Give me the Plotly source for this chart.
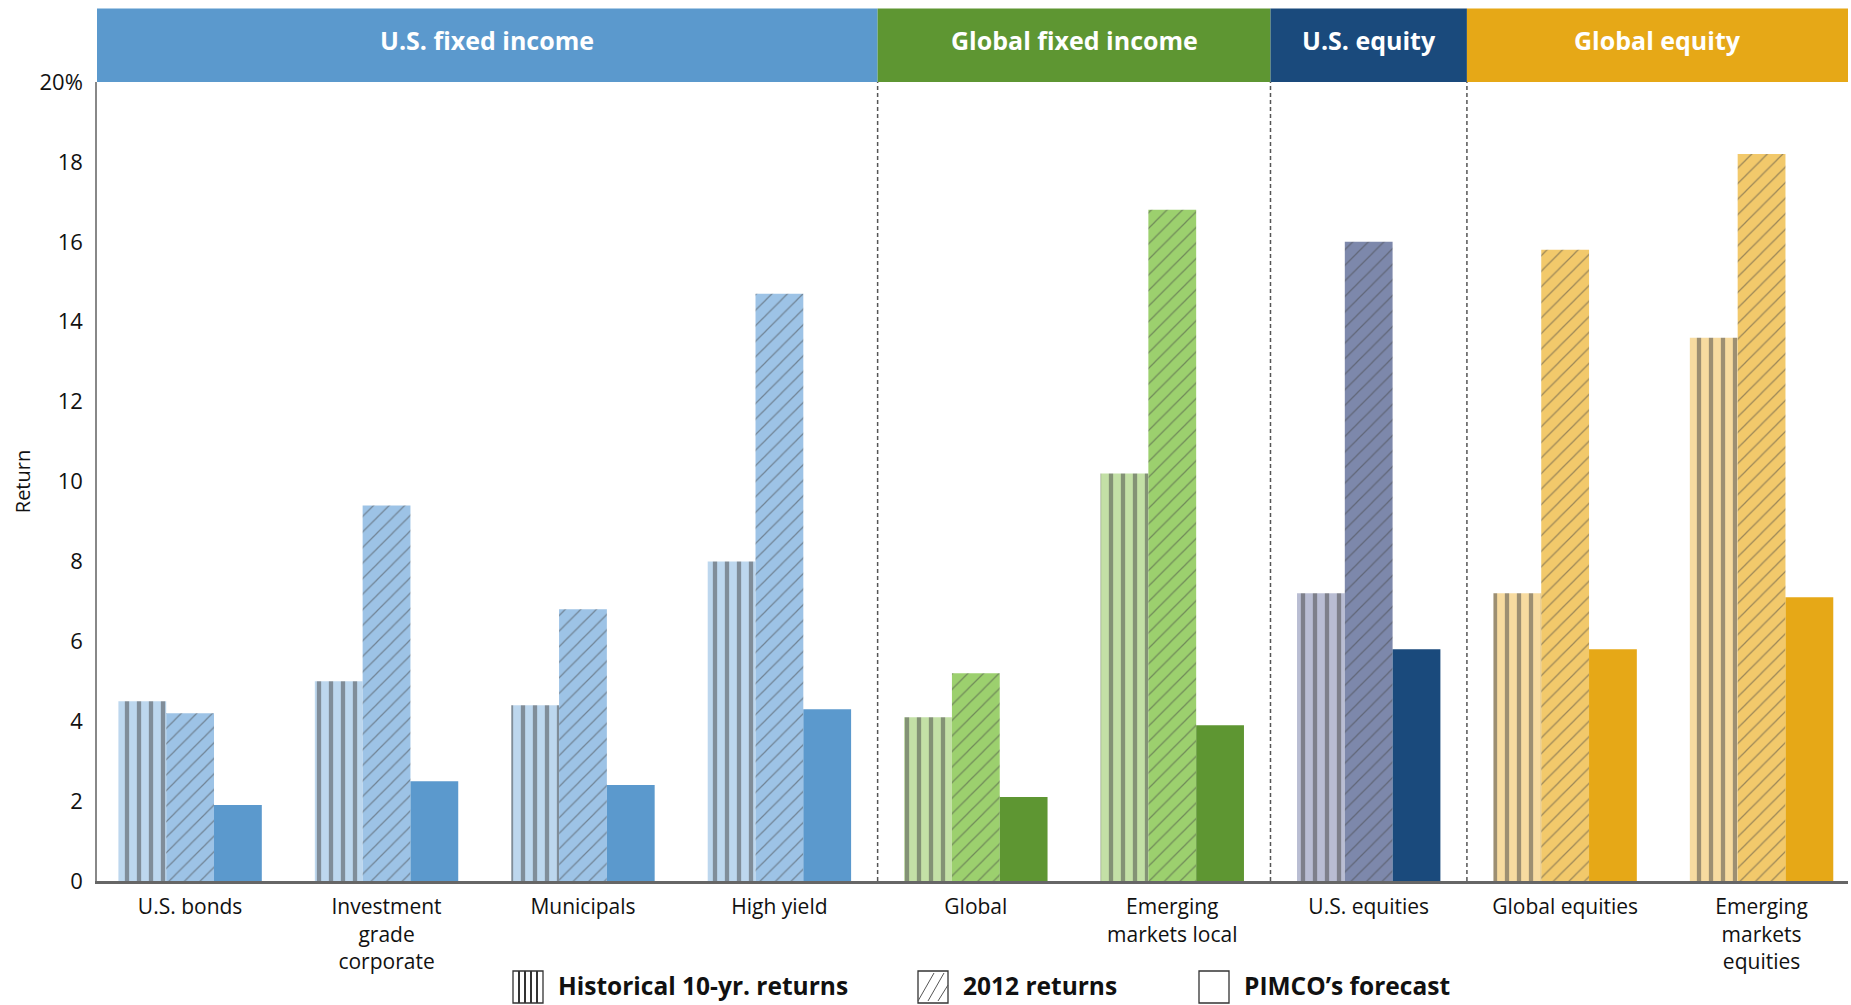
import plotly.graph_objects as go

categories = ["U.S. bonds", "Investment<br>grade<br>corporate", "Municipals", "High yield",
              "Global", "Emerging<br>markets local", "U.S. equities", "Global equities",
              "Emerging<br>markets<br>equities"]
historical = [4.5, 5.0, 4.4, 8.0, 4.1, 10.2, 7.2, 7.2, 13.6]
returns_2012 = [4.2, 9.4, 6.8, 14.7, 5.2, 16.8, 16.0, 15.8, 18.2]
forecast = [1.9, 2.5, 2.4, 4.3, 2.1, 3.9, 5.8, 5.8, 7.1]

groups = ["U.S. fixed income", "Global fixed income", "U.S. equity", "Global equity"]
group_sizes = [4, 2, 1, 2]
group_dark = ["#5B99CD", "#5E9632", "#1A4A7C", "#E6A817"]
group_mid = ["#9DC3E6", "#9CD06E", "#7D88AB", "#F2C96B"]
group_light = ["#BDD7EE", "#C3E0A6", "#B9BDD3", "#F7DBA0"]

y_ticks = [0, 2, 4, 6, 8, 10, 12, 14, 16, 18, 20]
y_ticktext = ["0", "2", "4", "6", "8", "10", "12", "14", "16", "18", "20%"]

legend_names = ["Historical 10-yr. returns", "2012 returns", "PIMCO\u2019s forecast"]

# per-category colours
dark, mid, light = [], [], []
for g, n in enumerate(group_sizes):
    dark += [group_dark[g]] * n
    mid += [group_mid[g]] * n
    light += [group_light[g]] * n

FONT = "Open Sans"
W, H = 1851, 1005
ML, MR, MT, MB = 97, 3, 82, 124
PW, PH = W - ML - MR, H - MT - MB
X_RANGE = [-0.474, 8.44]


def px_x(p):
    return (p - ML) / PW


def px_y(p):
    return (H - MB - p) / PH


def data_to_paper(x):
    return (x - X_RANGE[0]) / (X_RANGE[1] - X_RANGE[0])


fig = go.Figure()

fig.add_trace(go.Bar(
    x=categories, y=historical, name=legend_names[0], showlegend=False,
    marker=dict(color=light, line=dict(width=0),
                pattern=dict(shape="|", fillmode="overlay", fgcolor="#444444",
                             size=12, solidity=0.36)),
))
fig.add_trace(go.Bar(
    x=categories, y=returns_2012, name=legend_names[1], showlegend=False,
    marker=dict(color=mid, line=dict(width=0),
                pattern=dict(shape="/", fillmode="overlay", fgcolor="rgba(50,50,50,0.85)",
                             size=11, solidity=0.11)),
))
fig.add_trace(go.Bar(
    x=categories, y=forecast, name=legend_names[2], showlegend=False,
    marker=dict(color=dark, line=dict(width=0)),
))

shapes = []
annotations = []
start = 0
n_groups = len(group_sizes)
for g, n in enumerate(group_sizes):
    x0 = 0.0 if g == 0 else data_to_paper(start - 0.5)
    x1 = 1.0 if g == n_groups - 1 else data_to_paper(start + n - 0.5)
    shapes.append(dict(type="rect", xref="paper", yref="paper", x0=x0, x1=x1,
                       y0=1.0, y1=1.092, fillcolor=group_dark[g], line=dict(width=0),
                       layer="above"))
    annotations.append(dict(xref="paper", yref="paper", x=(x0 + x1) / 2, y=1.053,
                            text="<b>" + groups[g] + "</b>", showarrow=False,
                            font=dict(family=FONT, size=25, color="white"),
                            xanchor="center", yanchor="middle"))
    if g > 0:
        shapes.append(dict(type="line", xref="paper", yref="paper", x0=x0, x1=x0,
                           y0=0, y1=1.0, line=dict(color="#555555", width=1.5, dash="4px,3px")))
    start += n

# custom legend (large swatches like the original)
leg_icon_left = [513, 918, 1199]
leg_text_left = [556, 961, 1242]
icon_top, icon_bot = 971, 1003
leg_line = dict(color="#333333", width=1.3)
for i in range(3):
    l = leg_icon_left[i]
    r = l + 30
    shapes.append(dict(type="rect", xref="paper", yref="paper",
                       x0=px_x(l), x1=px_x(r), y0=px_y(icon_bot), y1=px_y(icon_top),
                       line=leg_line, fillcolor="white"))
    if i == 0:
        for k in range(1, 5):
            xx = l + k * 6
            shapes.append(dict(type="line", xref="paper", yref="paper",
                               x0=px_x(xx), x1=px_x(xx), y0=px_y(icon_bot), y1=px_y(icon_top),
                               line=dict(color="#333333", width=2)))
    elif i == 1:
        for k in range(3):
            xa = l + k * 10
            shapes.append(dict(type="line", xref="paper", yref="paper",
                               x0=px_x(xa), x1=px_x(min(xa + 16, r)),
                               y0=px_y(icon_bot - 2), y1=px_y(icon_top + 2 + (max(0, xa + 16 - r) * 2)),
                               line=dict(color="#555555", width=1)))
    annotations.append(dict(xref="paper", yref="paper", x=px_x(leg_text_left[i]),
                            y=px_y(986), text="<b>" + legend_names[i] + "</b>",
                            showarrow=False, xanchor="left", yanchor="middle",
                            font=dict(family=FONT, size=24.5, color="#111")))

fig.update_layout(
    width=W, height=H,
    margin=dict(l=ML, r=MR, t=MT, b=MB),
    paper_bgcolor="white", plot_bgcolor="white",
    barmode="group", bargap=0.27, bargroupgap=0,
    font=dict(family=FONT, color="#111"),
    xaxis=dict(range=X_RANGE, showline=True, linecolor="#666666", linewidth=3,
               showgrid=False, ticks="", tickfont=dict(size=21, color="#111"),
               ticklabelstandoff=5),
    yaxis=dict(range=[0, 20], tickvals=y_ticks, ticktext=y_ticktext, showgrid=False,
               zeroline=False, showline=True, linecolor="#888888", linewidth=1.5,
               ticks="", tickfont=dict(size=22, color="#111"), ticklabelstandoff=8,
               title=dict(text="Return", font=dict(size=20, color="#111"), standoff=3)),
    showlegend=False,
    shapes=shapes, annotations=annotations,
)

fig.write_html("out.html")
